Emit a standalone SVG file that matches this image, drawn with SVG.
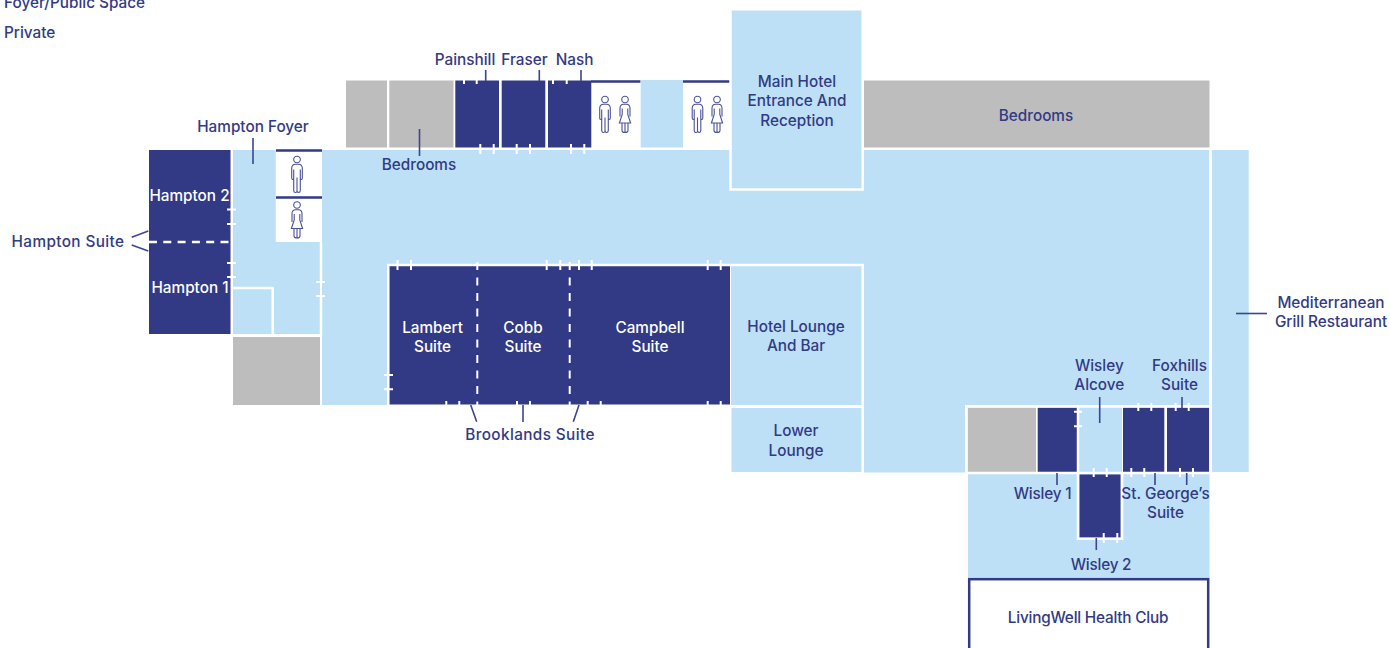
<svg xmlns="http://www.w3.org/2000/svg" width="1390" height="648" viewBox="0 0 1390 648">
<style>
text{font-family:"Inter","Noto Sans",sans-serif;font-size:15.3px;font-weight:500;fill:#323a85;text-anchor:middle}
text.w{fill:#fff}
text.s{text-anchor:start}
text.x{letter-spacing:.4px}
text.y{letter-spacing:-.2px}
.l{fill:#bde0f6}
.n{fill:#323a85}
.g{fill:#bdbdbd}
.wl{stroke:#fff;stroke-width:2.5;fill:none}
.t{stroke:#fff;stroke-width:2;fill:none}
.d{stroke:#fff;stroke-width:2.5;fill:none;stroke-dasharray:8 6.3}
.dv{stroke:#fff;stroke-width:2;fill:none;stroke-dasharray:8 7.5}
.b{stroke:#323a85;stroke-width:2.5;fill:none}
.c{stroke:#3c4590;stroke-width:1.6;fill:none}
.i{stroke:#4a5298;stroke-width:1.1;fill:none}
</style>
<defs>
<g id="man" class="i"><circle cx="0" cy="0" r="3.3"/><path d="M-1.5 4.8H1.5Q5.3 4.8 5.3 9V18.5Q5.3 20 4.3 20T3.3 18.5V10M-3.3 10V18.5Q-3.3 20-4.3 20T-5.3 18.5V9Q-5.3 4.8-1.5 4.8M-3.3 10V31Q-3.3 33-1.6 33T0 31V18V31Q0 33 1.6 33T3.3 31V10"/></g>
<g id="woman" class="i"><circle cx="0" cy="0" r="3.3"/><path d="M-5 17V9Q-5 4.8-1.5 4.8H1.5Q5 4.8 5 9V17M-2.8 9V15L-5.6 23.5H5.6L2.8 15V9M-3 23.5V31Q-3 33 0 33T3 31V23.5M0 23.5V33"/></g>
</defs>

<g id="legend">
<text class="s" x="4" y="8">Foyer/Public Space</text>
<text class="s" x="4" y="38">Private</text>
</g>

<g id="main-hall"><path class="l" d="M322 150H1209.5V405H965V472.5H864V264H388V405H322Z"/></g>

<g id="hampton-foyer">
<path class="l" d="M233 150H275.7V242H320V334H233Z"/>
<path class="wl" d="M233 288H272.7V334"/>
<path class="wl" d="M321 242V282M321 296V335"/>
<path class="t" d="M316 282H325M316 296H325"/>
<text x="253" y="132">Hampton Foyer</text>
</g>

<g id="hampton-toilets">
<path class="b" d="M276 150.5H322M276 197.5H322"/>
<use href="#man" x="297" y="159.5"/>
<use href="#woman" x="297" y="205"/>
</g>

<g id="hampton-suite">
<rect class="n" x="149" y="150" width="81.5" height="184"/>
<path class="d" d="M149 242H231"/>
<path class="t" d="M227 209.5H236M227 224H236M227 263H236M227 277H236"/>
<text class="w" x="189.5" y="200.5">Hampton 2</text>
<text class="w" x="190" y="293">Hampton 1</text>
<text class="x" x="68" y="247">Hampton Suite</text>
</g>

<g id="store-left"><rect class="g" x="233" y="337" width="87" height="68"/></g>

<g id="bedrooms-west">
<rect class="g" x="346" y="80.5" width="41" height="67"/>
<rect class="g" x="389.3" y="80.5" width="64.2" height="67"/>
<text x="419" y="170">Bedrooms</text>
</g>

<g id="painshill">
<rect class="n" x="455.3" y="80.5" width="43.7" height="67"/>
<path class="t" d="M464 79V84M476.7 79V84M480.3 144V154M493.7 144V154"/>
<text x="465" y="65">Painshill</text>
</g>
<g id="fraser">
<rect class="n" x="501.7" y="80.5" width="43.6" height="67"/>
<path class="t" d="M516.7 144V154M530 144V154"/>
<text x="524.5" y="65">Fraser</text>
</g>
<g id="nash">
<rect class="n" x="548" y="80.5" width="43.3" height="67"/>
<path class="t" d="M553 79V84M566.7 79V84M571 144V154M584.3 144V154"/>
<text x="574.5" y="65">Nash</text>
</g>

<g id="toilets-north-1">
<path class="b" d="M591 81.5H640.5"/>
<use href="#man" x="605" y="99.5"/>
<use href="#woman" x="625" y="99.5"/>
</g>
<g id="corridor-north"><rect class="l" x="640.7" y="80" width="42.3" height="67.5"/></g>
<g id="toilets-north-2">
<path class="b" d="M683 81.5H731"/>
<use href="#man" x="697.5" y="99.5"/>
<use href="#woman" x="717" y="99.5"/>
</g>

<g id="main-entrance">
<rect class="l" x="731" y="10.5" width="131" height="178"/>
<path class="wl" d="M730.5 10.5V189.5H862.7V10.5"/>
<text x="797" y="86.5">Main Hotel</text>
<text x="797" y="106">Entrance And</text>
<text x="797" y="125.5">Reception</text>
</g>

<g id="bedrooms-east">
<rect class="g" x="864" y="80.5" width="345.5" height="67"/>
<text x="1036" y="121">Bedrooms</text>
</g>

<g id="brooklands-suite">
<rect class="n" x="388.3" y="265" width="341.7" height="140.3"/>
<path class="wl" d="M388.3 405.5V265H730"/>
<path class="t" d="M388.3 405.5H730"/>
<path class="dv" d="M477.3 262V405"/>
<path class="dv" d="M569.7 262V405"/>
<path class="t" d="M397.5 260V270M411 260V270M546.7 260V270M560.3 260V270M579 260V270M591.7 260V270M707.7 260V270M720.7 260V270"/>
<path class="t" d="M384 375H393M384 389.3H393"/>
<path class="t" d="M446.3 401V407M459.3 401V407M517 401V407M530 401V407M587.7 401V407M600.7 401V407M707.7 401V407M720.7 401V407"/>
<text class="w" x="432.5" y="332.5">Lambert</text>
<text class="w" x="432.5" y="352.3">Suite</text>
<text class="w" x="523" y="332.5">Cobb</text>
<text class="w" x="523" y="352.3">Suite</text>
<text class="w" x="650" y="332.5">Campbell</text>
<text class="w" x="650" y="352.3">Suite</text>
<text class="x" x="530" y="440">Brooklands Suite</text>
</g>

<g id="hotel-lounge">
<rect class="l" x="731" y="266" width="131" height="139"/>
<text x="796" y="332">Hotel Lounge</text>
<text x="796" y="351">And Bar</text>
</g>
<g id="lower-lounge">
<rect class="l" x="731.5" y="408" width="130.5" height="64"/>
<text x="796" y="436">Lower</text>
<text x="796" y="455.5">Lounge</text>
</g>
<path class="wl" d="M730 265H862.7V472M730 406.5H862.7"/>

<g id="mediterranean-grill">
<rect class="l" x="1211.7" y="150" width="37" height="322"/>
<text x="1331" y="307.7">Mediterranean</text>
<text x="1331" y="327.3">Grill Restaurant</text>
</g>

<g id="wisley-block">
<rect class="l" x="968" y="474" width="241.5" height="104"/>
<rect class="l" x="1079" y="407.5" width="43" height="66"/>
<rect class="g" x="967.7" y="407.7" width="68.3" height="64.6"/>
</g>

<g id="wisley-1">
<rect class="n" x="1037.7" y="407.7" width="39.6" height="64.6"/>
<path class="wl" d="M1078 407.7V472.5"/>
<path class="t" d="M1074 411.7H1082M1074 426.3H1082"/>
<text class="y" x="1042.5" y="499.3">Wisley 1</text>
</g>
<g id="wisley-alcove">
<text x="1099.3" y="370.5">Wisley</text>
<text x="1099.3" y="389.5">Alcove</text>
</g>
<g id="wisley-2">
<rect class="n" x="1079.3" y="474.3" width="41.4" height="63.4"/>
<path class="wl" d="M1078 473V538.7H1122V473"/>
<path class="t" d="M1093.7 468V477M1106.7 468V477M1103.7 533V543M1117.3 533V543"/>
<text class="y" x="1101" y="570">Wisley 2</text>
</g>
<g id="st-georges">
<rect class="n" x="1123" y="407.7" width="41.3" height="64.6"/>
<path class="t" d="M1138.3 403V411M1151.3 403V411M1131.3 468V477M1144.3 468V477"/>
<text x="1165.5" y="499.3">St. George’s</text>
<text x="1165.5" y="518.3">Suite</text>
</g>
<g id="foxhills">
<rect class="n" x="1167" y="407.7" width="42.3" height="64.6"/>
<path class="t" d="M1175.7 403V411M1188.7 403V411M1180 468V477M1193 468V477"/>
<text x="1179.5" y="370.5">Foxhills</text>
<text x="1179.5" y="389.5">Suite</text>
</g>
<path class="wl" d="M966.3 472.5V406.3H1210.7M966.3 473H1210"/>
<path class="wl" d="M1210.5 150V472"/>

<g id="livingwell">
<rect x="969.2" y="579.2" width="239" height="80" fill="#fff" stroke="#323a85" stroke-width="2.5"/>
<text class="y" x="1088" y="623">LivingWell Health Club</text>
</g>

<g id="connectors">
<path class="c" d="M253 138V164"/>
<path class="c" d="M131.7 237.3L148.3 231M131.7 245L148.3 251"/>
<path class="c" d="M485.7 70V81M539.3 70V81M581 70V81"/>
<path class="c" d="M419.5 129V156"/>
<path class="c" d="M470.7 405L476.7 421.7M523 405V422M579 405L573.3 421.7"/>
<path class="c" d="M1099.7 397V423M1182 397V408M1057 473V485M1155 473V485M1186.7 473V485M1096.3 538V550"/>
<path class="c" d="M1236 313.5H1267"/>
</g>
</svg>
